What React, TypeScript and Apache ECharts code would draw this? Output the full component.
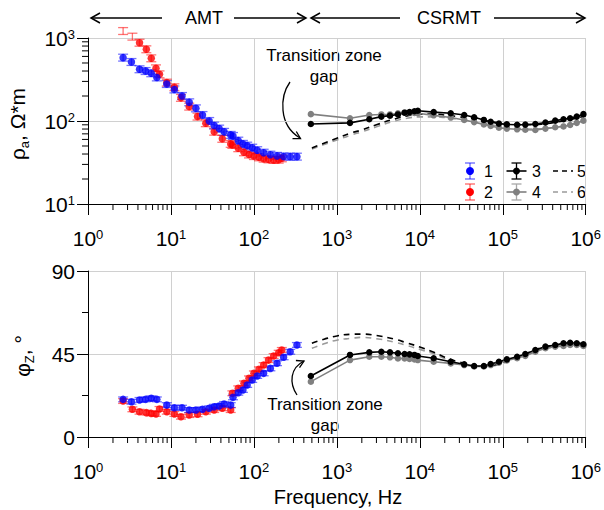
import React, { useEffect, useRef } from 'react';
import * as echarts from 'echarts';

const F = 'Liberation Sans, Arial, sans-serif';

// ---------- AMT data ----------
const f1 = [2.65, 3.34, 4.18, 4.95, 5.79, 6.76, 8.91, 11.0, 13.6, 16.6, 20, 24, 28.9, 33.2, 38.1, 43.7, 52.5, 56, 64.8, 73.7, 83, 95.4, 109.6, 131, 158, 190, 228, 274, 330];
const rho1 = [580, 514, 420, 400, 376, 335, 279, 240, 200, 168, 142, 118, 100, 88, 81, 74, 68, 66, 58, 53, 50.5, 47.7, 44.5, 41.5, 39.3, 38, 37.4, 37.2, 37.2];
const phi1 = [20.4, 19.1, 20.1, 20.4, 21.0, 20.4, 17.3, 15.9, 15.9, 14.6, 14.6, 15.0, 15.6, 16.4, 16.8, 17.9, 17.3, 21.5, 24.0, 25.5, 28.2, 30.9, 33.1, 34.5, 37.2, 40.0, 43.2, 46.2, 49.9];

const f2 = [2.65, 3.43, 4.18, 5.05, 5.79, 6.6, 7.28, 8.91, 11.0, 13.2, 16.6, 20.9, 26.3, 33.2, 41.6, 52.5, 55, 64.8, 75.9, 87.2, 100, 115, 131, 150, 173, 199, 217];
const rho2 = [1213, 1038, 877, 731, 569, 431, 365, 290, 255, 190, 149, 113, 94, 74.3, 61, 53, 51.5, 47, 42, 39.5, 37.8, 36.5, 35.2, 34.5, 34, 34.2, 35.5];
const phi2 = [19.5, 15.0, 13.7, 13.2, 12.8, 12.5, 15.2, 13.7, 12.5, 11.0, 11.9, 12.3, 13.7, 14.6, 15.6, 14.6, 23.7, 26.4, 29.1, 31.8, 34.5, 36.7, 39.0, 41.7, 43.9, 45.7, 47.2];

// ---------- CSRMT data ----------
const fC = [486, 1440, 2460, 3440, 4370, 5450, 6560, 7520, 8620, 9460, 14700, 23600, 34300, 45200, 59200, 71500, 89900, 112000, 149000, 187000, 247000, 327000, 429000, 540000, 649000, 780000, 938000];
const rho3 = [92, 95, 105, 113, 116, 120, 126, 128, 131, 133, 128, 124, 118, 111, 103, 98, 93, 91, 90, 90.5, 92, 96, 101, 105, 108, 113, 121];
const phi3 = [33.1, 44.5, 45.9, 46.2, 45.9, 45.4, 45.0, 44.8, 44.5, 43.9, 42.7, 40.8, 39.4, 38.5, 38.5, 39.6, 40.8, 42.1, 43.5, 45.0, 47.2, 49.0, 49.9, 50.8, 51.1, 50.8, 50.3];
const rho4 = [121, 108, 118, 120, 120, 124, 126, 127, 125, 124, 117, 110, 103, 97, 91, 87, 83, 81, 79.4, 78.5, 78, 81, 84, 86, 89.5, 95, 101];
const phi4 = [30.0, 41.7, 43.5, 43.5, 43.2, 42.6, 42.6, 42.3, 42.1, 41.7, 40.8, 39.9, 39.0, 38.2, 38.2, 39.0, 40.3, 41.5, 42.7, 44.0, 46.2, 48.1, 49.0, 49.4, 49.9, 49.9, 49.4];

// ---------- model curves (dashed) ----------
const fM = [500, 700, 1000, 1500, 2000, 3000, 5000, 7000, 10000, 15000, 20000, 30000, 50000, 70000, 100000, 150000, 200000, 300000, 500000, 700000, 1000000];
const rho5 = [47.3, 54, 62, 72, 78, 90, 106, 115, 121, 121, 118, 112, 104, 98, 94, 91, 90, 92, 99, 106, 115];
const rho6 = [46, 52, 59, 68, 74, 85, 100, 108, 112, 112, 110, 104, 96, 90, 86, 82, 80, 81, 86, 92, 101];
const phi5 = [50.8, 53, 54.8, 55.7, 55.8, 55.0, 53.0, 51.0, 48.8, 45.8, 43.3, 40.6, 38.5, 38.8, 40.6, 43.5, 45.5, 48.5, 50.3, 51.0, 50.3];
const phi6 = [48.1, 50.5, 52.5, 53.5, 54.0, 53.3, 51.4, 49.6, 47.5, 45.0, 42.5, 39.9, 38.0, 38.3, 40.0, 42.7, 44.5, 47.6, 49.2, 49.9, 49.4];

// error estimates
const RHO_REL_ERR = 0.1;
const PHI_ERR = 1.3;

// axes / ticks
const decades = [0, 1, 2, 3, 4, 5];
const minorMult = [2, 3, 4, 5, 6, 7, 8, 9];
const rhoDecades = [1, 2];
const phaseTicks = [0, 45, 90];

const BLUE = '#0000ff';
const RED = '#ff0000';
const BLACK = '#000000';
const GRAY = '#808080';
const LGRAY = '#9a9a9a';

const pairs = (xs: number[], ys: number[]) => xs.map((x, i) => [x, ys[i]]);

function errSeries(xi: number, xs: number[], ys: number[], lo: (v: number) => number, hi: (v: number) => number, color: string) {
  return {
    type: 'custom',
    xAxisIndex: xi,
    yAxisIndex: xi,
    silent: true,
    clip: false,
    data: xs.map((x, i) => [x, ys[i], lo(ys[i]), hi(ys[i])]),
    renderItem: (params: any, api: any) => {
      const a = api.coord([api.value(0), api.value(2)]);
      const b = api.coord([api.value(0), api.value(3)]);
      const w = 5;
      const st = { stroke: color, lineWidth: 1.3 };
      return {
        type: 'group',
        children: [
          { type: 'line', shape: { x1: a[0], y1: a[1], x2: b[0], y2: b[1] }, style: st },
          { type: 'line', shape: { x1: a[0] - w, y1: a[1], x2: a[0] + w, y2: a[1] }, style: st },
          { type: 'line', shape: { x1: b[0] - w, y1: b[1], x2: b[0] + w, y2: b[1] }, style: st },
        ],
      };
    },
  };
}

function tickSeries(xi: number, data: number[][], dir: 'down' | 'left', len: number) {
  return {
    type: 'custom',
    xAxisIndex: xi,
    yAxisIndex: xi,
    silent: true,
    clip: false,
    data,
    renderItem: (params: any, api: any) => {
      const p = api.coord([api.value(0), api.value(1)]);
      const shape = dir === 'down'
        ? { x1: p[0], y1: p[1], x2: p[0], y2: p[1] + len }
        : { x1: p[0] - len, y1: p[1], x2: p[0], y2: p[1] };
      return { type: 'line', shape, style: { stroke: '#000', lineWidth: 1 } };
    },
  };
}

const richLog = {
  b: { fontSize: 21, fontFamily: F, color: '#000', lineHeight: 21, verticalAlign: 'bottom' },
  s: { fontSize: 13, fontFamily: F, color: '#000', lineHeight: 13, verticalAlign: 'top' },
};
const logFmt = (v: number) => `{b|10}{s|${Math.round(Math.log10(v))}}`;

function xAxis(gi: number, showLabel: boolean) {
  return {
    type: 'log',
    logBase: 10,
    gridIndex: gi,
    min: 1,
    max: 1e6,
    axisLine: { show: true, lineStyle: { color: '#000', width: 1 } },
    axisTick: { show: true, length: 11, lineStyle: { color: '#000' } },
    splitLine: { show: true, lineStyle: { color: '#d0d0d0', width: 1 } },
    axisLabel: { show: showLabel, formatter: logFmt, rich: richLog, margin: 24, showMaxLabel: true, showMinLabel: true },
  };
}

export default function App() {
  const ref = useRef<HTMLDivElement>(null);
  useEffect(() => {
    if (!ref.current) return;
    const chart = echarts.init(ref.current, undefined, { renderer: 'svg' });

    const xMinor: number[] = [];
    decades.forEach((d) => minorMult.forEach((m) => xMinor.push(m * Math.pow(10, d))));
    const yMinor: number[] = [];
    rhoDecades.forEach((d) => minorMult.forEach((m) => yMinor.push(m * Math.pow(10, d))));

    const rLo = (v: number) => v / (1 + RHO_REL_ERR);
    const rHi = (v: number) => v * (1 + RHO_REL_ERR);
    const pLo = (v: number) => v - PHI_ERR;
    const pHi = (v: number) => v + PHI_ERR;

    const lineS = (xi: number, xs: number[], ys: number[], color: string, size: number) => ({
      type: 'line', xAxisIndex: xi, yAxisIndex: xi, data: pairs(xs, ys),
      symbol: 'circle', symbolSize: size, showSymbol: true,
      itemStyle: { color }, lineStyle: { color, width: 1.6 }, silent: true,
    });
    const dashS = (xi: number, xs: number[], ys: number[], color: string) => ({
      type: 'line', xAxisIndex: xi, yAxisIndex: xi, data: pairs(xs, ys), symbol: 'none', smooth: true,
      lineStyle: { color, width: 1.6, type: [6, 5] }, silent: true,
    });
    const scatS = (xi: number, xs: number[], ys: number[], color: string) => ({
      type: 'scatter', xAxisIndex: xi, yAxisIndex: xi, data: pairs(xs, ys),
      symbol: 'circle', symbolSize: 7.5, itemStyle: { color }, silent: true,
    });

    // legend via graphic
    const legend: any[] = [];
    const rows = [171, 192];
    const errIcon = (x: number, y: number, color: string, lineColor: string, withLine: boolean) => {
      const arr: any[] = [];
      if (withLine) arr.push({ type: 'line', shape: { x1: x - 10, y1: y, x2: x + 10, y2: y }, style: { stroke: color, lineWidth: 1.6 } });
      const st = { stroke: lineColor, lineWidth: 1.3 };
      arr.push({ type: 'line', shape: { x1: x, y1: y - 8, x2: x, y2: y + 8 }, style: st });
      arr.push({ type: 'line', shape: { x1: x - 5, y1: y - 8, x2: x + 5, y2: y - 8 }, style: st });
      arr.push({ type: 'line', shape: { x1: x - 5, y1: y + 8, x2: x + 5, y2: y + 8 }, style: st });
      arr.push({ type: 'circle', shape: { cx: x, cy: y, r: withLine ? 3.5 : 4 }, style: { fill: color } });
      return arr;
    };
    const lt = (x: number, y: number, t: string) => ({ type: 'text', x, y, style: { text: t, fontFamily: F, fontSize: 16, fill: '#000', verticalAlign: 'middle', align: 'left' } });
    legend.push(...errIcon(470, rows[0], BLUE, 'rgba(0,0,255,0.6)', false), lt(484, rows[0], '1'));
    legend.push(...errIcon(470, rows[1], RED, 'rgba(255,0,0,0.6)', false), lt(484, rows[1], '2'));
    legend.push(...errIcon(516.5, rows[0], BLACK, BLACK, true), lt(532, rows[0], '3'));
    legend.push(...errIcon(516.5, rows[1], GRAY, '#a8a8a8', true), lt(532, rows[1], '4'));
    legend.push({ type: 'line', shape: { x1: 553, y1: rows[0], x2: 573, y2: rows[0] }, style: { stroke: BLACK, lineWidth: 1.6, lineDash: [5, 4] } }, lt(577, rows[0], '5'));
    legend.push({ type: 'line', shape: { x1: 553, y1: rows[1], x2: 573, y2: rows[1] }, style: { stroke: LGRAY, lineWidth: 1.6, lineDash: [5, 4] } }, lt(577, rows[1], '6'));

    const topY = 18;
    const arrSt = { stroke: '#000', lineWidth: 1.5, fill: 'none' };
    const chevL = (x: number) => ({ type: 'polyline', shape: { points: [[x + 9, topY - 5], [x, topY], [x + 9, topY + 5]] }, style: arrSt });
    const chevR = (x: number) => ({ type: 'polyline', shape: { points: [[x - 9, topY - 5], [x, topY], [x - 9, topY + 5]] }, style: arrSt });
    const hl = (a: number, b: number) => ({ type: 'line', shape: { x1: a, y1: topY, x2: b, y2: topY }, style: arrSt });
    const bigT = (x: number, y: number, t: string, size = 18) => ({ type: 'text', x, y, style: { text: t, fontFamily: F, fontSize: size, fill: '#000', align: 'center', verticalAlign: 'middle' } });

    const graphics: any[] = [
      chevL(91), hl(91, 162), bigT(204, topY, 'AMT'), hl(234, 306), chevR(306),
      chevL(311), hl(311, 400), bigT(449, topY, 'CSRMT'), hl(494, 585), chevR(585),
      // annotation top
      { type: 'text', x: 324, y: 66, style: { text: 'Transition zone\ngap', fontFamily: F, fontSize: 17, fill: '#000', align: 'center', verticalAlign: 'middle', lineHeight: 21 } },
      { type: 'bezierCurve', shape: { x1: 290, y1: 82, cpx1: 280, cpy1: 96, cpx2: 278, cpy2: 125, x2: 300, y2: 138 }, style: { stroke: '#000', lineWidth: 1.3, fill: 'none' } },
      { type: 'polyline', shape: { points: [[292.5, 138.6], [300.5, 138.5], [296.3, 131.5]] }, style: { stroke: '#000', lineWidth: 1.3, fill: 'none' } },
      // annotation bottom
      { type: 'text', x: 325, y: 415, style: { text: 'Transition zone\ngap', fontFamily: F, fontSize: 17, fill: '#000', align: 'center', verticalAlign: 'middle', lineHeight: 21 } },
      { type: 'bezierCurve', shape: { x1: 297, y1: 395, cpx1: 289, cpy1: 383, cpx2: 290, cpy2: 368, x2: 304, y2: 361 }, style: { stroke: '#000', lineWidth: 1.3, fill: 'none' } },
      { type: 'polyline', shape: { points: [[299.5, 367.7], [304, 361], [295.9, 360.5]] }, style: { stroke: '#000', lineWidth: 1.3, fill: 'none' } },
      // y titles
      {
        type: 'text', x: 19, y: 124, rotation: Math.PI / 2,
        style: {
          text: '{m|ρ}{s|a}{m|, Ω*m}', align: 'center', verticalAlign: 'middle',
          rich: {
            m: { fontFamily: F, fontSize: 21, fill: '#000', lineHeight: 24, verticalAlign: 'top' },
            s: { fontFamily: F, fontSize: 13, fill: '#000', lineHeight: 14, verticalAlign: 'bottom' },
          },
        },
      },
      {
        type: 'text', x: 24, y: 356, rotation: Math.PI / 2,
        style: {
          text: '{m|φ}{s|Z}{m|, °}', align: 'center', verticalAlign: 'middle',
          rich: {
            m: { fontFamily: F, fontSize: 21, fill: '#000', lineHeight: 24, verticalAlign: 'top' },
            s: { fontFamily: F, fontSize: 13, fill: '#000', lineHeight: 14, verticalAlign: 'bottom' },
          },
        },
      },
      bigT(338, 497, 'Frequency, Hz', 20),
      ...legend,
    ];

    const option: any = {
      animation: false,
      backgroundColor: '#fff',
      grid: [
        { left: 88, right: 15, top: 38, height: 166 },
        { left: 88, right: 15, top: 271, height: 166 },
      ],
      xAxis: [xAxis(0, true), xAxis(1, true)],
      yAxis: [
        {
          type: 'log', logBase: 10, gridIndex: 0, min: 10, max: 1000,
          axisLine: { show: true, lineStyle: { color: '#000' } },
          axisTick: { show: true, length: 11, lineStyle: { color: '#000' } },
          splitLine: { show: true, lineStyle: { color: '#d0d0d0' } },
          axisLabel: { formatter: logFmt, rich: richLog, margin: 13 },
        },
        {
          type: 'value', gridIndex: 1, min: phaseTicks[0], max: phaseTicks[2], interval: phaseTicks[1],
          axisLine: { show: true, lineStyle: { color: '#000' } },
          axisTick: { show: true, length: 11, lineStyle: { color: '#000' } },
          minorTick: { show: true, splitNumber: 2, length: 6, lineStyle: { color: '#000' } },
          splitLine: { show: true, lineStyle: { color: '#d0d0d0' } },
          axisLabel: { fontFamily: F, fontSize: 21, color: '#000', margin: 13 },
        },
      ],
      series: [
        tickSeries(0, xMinor.map((v) => [v, 10]), 'down', 6),
        tickSeries(1, xMinor.map((v) => [v, 0]), 'down', 6),
        tickSeries(0, yMinor.map((v) => [1, v]), 'left', 6),
        // top panel
        dashS(0, fM, rho6, LGRAY),
        dashS(0, fM, rho5, BLACK),
        lineS(0, fC, rho4, GRAY, 6.5),
        lineS(0, fC, rho3, BLACK, 6.5),
        errSeries(0, f2, rho2, rLo, rHi, 'rgba(255,0,0,0.55)'),
        scatS(0, f2, rho2, RED),
        errSeries(0, f1, rho1, rLo, rHi, 'rgba(0,0,255,0.55)'),
        scatS(0, f1, rho1, BLUE),
        // bottom panel
        dashS(1, fM, phi6, LGRAY),
        dashS(1, fM, phi5, BLACK),
        lineS(1, fC, phi4, GRAY, 6.5),
        lineS(1, fC, phi3, BLACK, 6.5),
        errSeries(1, f2, phi2, pLo, pHi, 'rgba(255,0,0,0.55)'),
        scatS(1, f2, phi2, RED),
        errSeries(1, f1, phi1, pLo, pHi, 'rgba(0,0,255,0.55)'),
        scatS(1, f1, phi1, BLUE),
      ],
      graphic: graphics,
    };
    chart.setOption(option);
    return () => chart.dispose();
  }, []);
  return <div ref={ref} style={{ position: 'absolute', left: 0, top: 0, width: 604, height: 510 }} />;
}
